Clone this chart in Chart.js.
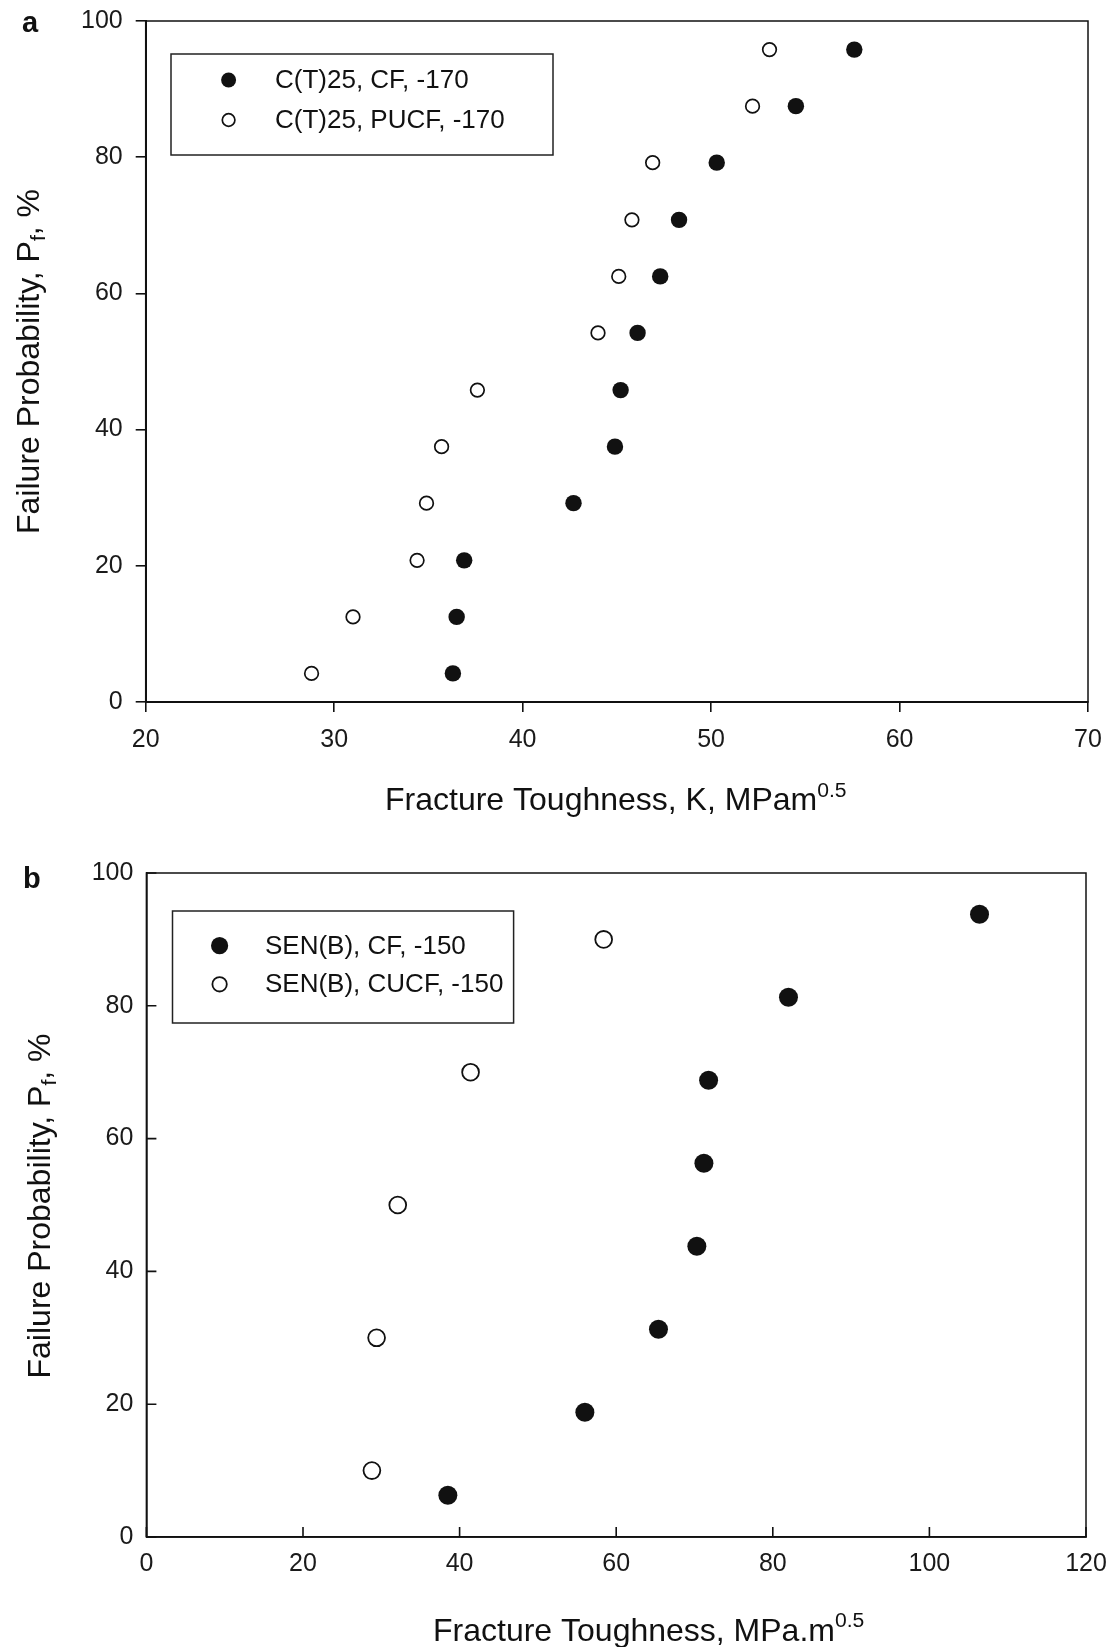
<!DOCTYPE html>
<html>
<head>
<meta charset="utf-8">
<script src="https://cdn.jsdelivr.net/npm/chart.js@4.4.1/dist/chart.umd.min.js"></script>
<style>
  html, body { margin: 0; padding: 0; background: #fff; }
  #wrap { position: relative; width: 1110px; height: 1647px; }
  canvas { position: absolute; left: 0; }
  #chartA { top: 0; }
  #chartB { top: 830px; }
</style>
</head>
<body>
<div id="wrap">
  <canvas id="chartA" width="1110" height="830"></canvas>
  <canvas id="chartB" width="1110" height="817"></canvas>
</div>
<script>
// Valeurs (a) : C(T)25 à -170
const probA = [4.2, 12.5, 20.8, 29.2, 37.5, 45.8, 54.2, 62.5, 70.8, 79.2, 87.5, 95.8];
const kCF_A = [36.3, 36.5, 36.9, 42.7, 44.9, 45.2, 46.1, 47.3, 48.3, 50.3, 54.5, 57.6];
const kPUCF_A = [28.8, 31.0, 34.4, 34.9, 35.7, 37.6, 44.0, 45.1, 45.8, 46.9, 52.2, 53.1];

// Valeurs (b) : SEN(B) à -150
const probCF_B = [6.3, 18.8, 31.3, 43.8, 56.3, 68.8, 81.3, 93.8];
const kCF_B = [38.5, 56.0, 65.4, 70.3, 71.2, 71.8, 82.0, 106.4];
const probCUCF_B = [10, 30, 50, 70, 90];
const kCUCF_B = [28.8, 29.4, 32.1, 41.4, 58.4];

const labelsA = ['C(T)25, CF, -170', 'C(T)25, PUCF, -170'];
const labelsB = ['SEN(B), CF, -150', 'SEN(B), CUCF, -150'];

const FONT = '"Liberation Sans", Arial, Helvetica, sans-serif';
const INK = '#111';

function toPoints(xs, ys) {
    return xs.map((x, i) => ({ x: x, y: ys[i] }));
}

// texte avec indice / exposant
function richWidth(ctx, parts, size) {
    let w = 0;
    parts.forEach(([t, mode]) => {
        ctx.font = (mode ? size * 0.66 : size) + 'px ' + FONT;
        w += ctx.measureText(t).width;
    });
    return w;
}
function drawRich(ctx, parts, size, x, y) {
    let cx = x;
    parts.forEach(([t, mode]) => {
        const s = mode ? size * 0.66 : size;
        const dy = mode === 1 ? size * 0.2 : (mode === -1 ? -size * 0.42 : 0);
        ctx.font = s + 'px ' + FONT;
        ctx.fillText(t, cx, y + dy);
        cx += ctx.measureText(t).width;
    });
}

function drawMarker(ctx, ds, x, y, r) {
    ctx.beginPath();
    ctx.arc(x, y, r, 0, Math.PI * 2);
    ctx.fillStyle = ds.backgroundColor;
    ctx.fill();
    if (ds.borderWidth) {
        ctx.lineWidth = ds.borderWidth;
        ctx.strokeStyle = ds.borderColor;
        ctx.stroke();
    }
}

const decor = {
    id: 'decor',
    afterDraw(chart, args, opts) {
        const ctx = chart.ctx;
        const a = chart.chartArea;
        ctx.save();
        ctx.fillStyle = INK;
        ctx.strokeStyle = INK;

        // cadre complet
        ctx.lineWidth = opts.frameWidth;
        ctx.strokeRect(a.left, a.top, a.right - a.left, a.bottom - a.top);

        // graduations vers l'intérieur
        if (opts.innerTicks) {
            const xs = chart.scales.x, ys = chart.scales.y;
            ctx.lineWidth = 1.6;
            ctx.beginPath();
            xs.ticks.forEach(t => {
                const px = xs.getPixelForValue(t.value);
                ctx.moveTo(px, a.bottom);
                ctx.lineTo(px, a.bottom - opts.tickLen);
            });
            ys.ticks.forEach(t => {
                const py = ys.getPixelForValue(t.value);
                ctx.moveTo(a.left, py);
                ctx.lineTo(a.left + opts.tickLen, py);
            });
            ctx.stroke();
        }

        // légende encadrée
        const lg = opts.legend;
        ctx.lineWidth = 1.5;
        ctx.strokeStyle = '#222';
        ctx.fillStyle = '#fff';
        ctx.fillRect(lg.box[0], lg.box[1], lg.box[2] - lg.box[0], lg.box[3] - lg.box[1]);
        ctx.strokeRect(lg.box[0], lg.box[1], lg.box[2] - lg.box[0], lg.box[3] - lg.box[1]);
        chart.data.datasets.forEach((ds, i) => {
            drawMarker(ctx, ds, lg.markX, lg.rows[i], lg.radii[i]);
            ctx.fillStyle = INK;
            ctx.font = lg.size + 'px ' + FONT;
            ctx.textBaseline = 'middle';
            ctx.textAlign = 'left';
            ctx.fillText(ds.label, lg.textX, lg.rows[i] + 1);
        });

        ctx.fillStyle = INK;
        ctx.textBaseline = 'alphabetic';
        ctx.textAlign = 'left';

        // lettre du panneau
        ctx.font = 'bold ' + opts.panel.size + 'px ' + FONT;
        ctx.fillText(opts.panel.text, opts.panel.x, opts.panel.y);

        // titre de l'axe x
        const xt = opts.xTitle;
        drawRich(ctx, xt.parts, xt.size, xt.x, xt.y);

        // titre de l'axe y (tourné)
        const yt = opts.yTitle;
        const w = richWidth(ctx, yt.parts, yt.size);
        ctx.translate(yt.x, yt.y);
        ctx.rotate(-Math.PI / 2);
        drawRich(ctx, yt.parts, yt.size, -w / 2, 0);
        ctx.restore();
    }
};

function makeChart(id, cfg) {
    const ctx = document.getElementById(id).getContext('2d');
    return new Chart(ctx, {
        type: 'scatter',
        data: { datasets: cfg.datasets },
        plugins: [decor],
        options: {
            responsive: false,
            animation: false,
            events: [],
            layout: { padding: cfg.padding },
            scales: {
                x: {
                    type: 'linear',
                    min: cfg.xRange[0],
                    max: cfg.xRange[1],
                    ticks: {
                        stepSize: cfg.xStep,
                        color: '#1a1a1a',
                        font: { family: FONT, size: 25 },
                        padding: cfg.xPad,
                        maxRotation: 0
                    },
                    grid: {
                        display: true,
                        drawOnChartArea: false,
                        drawTicks: !cfg.inner,
                        tickLength: 10,
                        color: INK,
                        lineWidth: 1.6
                    },
                    border: { display: true, color: INK, width: cfg.axisWidth },
                    afterFit: s => {
                        s.height = cfg.xHeight;
                        s.paddingLeft = 0;
                        s.paddingRight = 0;
                    }
                },
                y: {
                    type: 'linear',
                    min: 0,
                    max: 100,
                    ticks: {
                        stepSize: 20,
                        color: '#1a1a1a',
                        font: { family: FONT, size: 25 },
                        padding: 13
                    },
                    grid: {
                        display: true,
                        drawOnChartArea: false,
                        drawTicks: !cfg.inner,
                        tickLength: 10,
                        color: INK,
                        lineWidth: 1.6
                    },
                    border: { display: true, color: INK, width: cfg.axisWidth },
                    afterFit: s => {
                        s.width = cfg.yWidth;
                        s.paddingTop = 0;
                        s.paddingBottom = 0;
                    }
                }
            },
            plugins: {
                legend: { display: false },
                tooltip: { enabled: false },
                decor: cfg.decor
            }
        }
    });
}

// Figure (a)
makeChart('chartA', {
    datasets: [
        {
            label: labelsA[0],
            data: toPoints(kCF_A, probA),
            pointRadius: 8.2,
            backgroundColor: INK,
            borderColor: INK,
            borderWidth: 0
        },
        {
            label: labelsA[1],
            data: toPoints(kPUCF_A, probA),
            pointRadius: 6.8,
            backgroundColor: '#fff',
            borderColor: INK,
            borderWidth: 1.7
        }
    ],
    padding: { top: 21, right: 22, left: 0, bottom: 0 },
    xRange: [20, 70],
    xStep: 10,
    xPad: 13,
    xHeight: 128,
    yWidth: 145.7,
    inner: false,
    axisWidth: 2,
    decor: {
        frameWidth: 1.5,
        innerTicks: false,
        legend: { box: [171, 54, 553, 155], markX: 228.6, rows: [80, 120], textX: 275, radii: [7.5, 6.3], size: 26 },
        panel: { text: 'a', x: 22, y: 32, size: 29 },
        xTitle: { parts: [['Fracture Toughness, K, MPam', 0], ['0.5', -1]], size: 32, x: 385, y: 810 },
        yTitle: { parts: [['Failure Probability, P', 0], ['f', 1], [', %', 0]], size: 32, x: 39, y: 361.5 }
    }
});

// Figure (b)
makeChart('chartB', {
    datasets: [
        {
            label: labelsB[0],
            data: toPoints(kCF_B, probCF_B),
            pointRadius: 9.5,
            backgroundColor: INK,
            borderColor: INK,
            borderWidth: 0
        },
        {
            label: labelsB[1],
            data: toPoints(kCUCF_B, probCUCF_B),
            pointRadius: 8.4,
            backgroundColor: '#fff',
            borderColor: INK,
            borderWidth: 1.8
        }
    ],
    padding: { top: 43, right: 24, left: 0, bottom: 0 },
    xRange: [0, 120],
    xStep: 20,
    xPad: 12,
    xHeight: 110,
    yWidth: 146.4,
    inner: true,
    axisWidth: 1.7,
    decor: {
        frameWidth: 1.5,
        innerTicks: true,
        tickLen: 10,
        legend: { box: [172.5, 81, 513.6, 193], markX: 219.6, rows: [115.7, 154.3], textX: 265, radii: [8.6, 7.2], size: 26 },
        panel: { text: 'b', x: 23, y: 58, size: 29 },
        xTitle: { parts: [['Fracture Toughness, MPa.m', 0], ['0.5', -1]], size: 32, x: 433, y: 810.5 },
        yTitle: { parts: [['Failure Probability, P', 0], ['f', 1], [', %', 0]], size: 32, x: 50, y: 376 }
    }
});
</script>
</body>
</html>
